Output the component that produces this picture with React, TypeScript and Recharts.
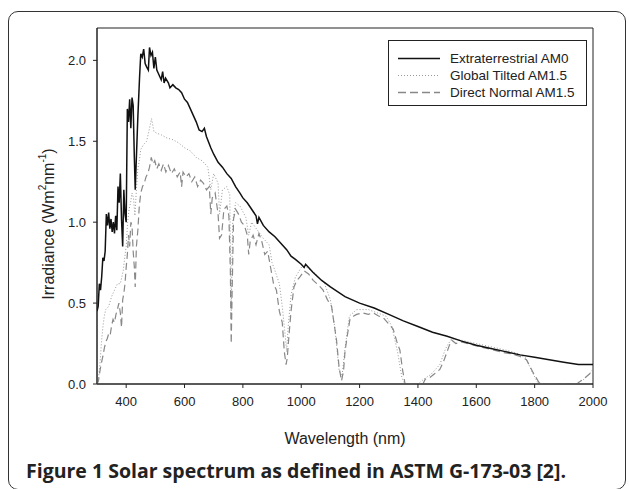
import React from 'react';
import { LineChart, Line, XAxis, YAxis, ReferenceArea } from 'recharts';

// Extraterrestrial AM0
const am0Wl = [300, 304, 308, 312, 316, 320, 324, 328, 332, 336, 340, 344, 348, 352, 356, 360, 364, 368, 372, 376, 380, 384, 388, 392, 396, 400, 404, 408, 412, 416, 420, 424, 428, 431, 434, 440, 446, 450, 455, 460, 465, 470, 476, 480, 485, 490, 495, 500, 505, 510, 520, 525, 530, 535, 545, 550, 560, 570, 580, 590, 600, 610, 620, 630, 640, 650, 660, 668, 675, 690, 700, 715, 730, 745, 760, 775, 790, 800, 815, 830, 845, 850, 855, 870, 890, 910, 930, 950, 965, 980, 1000, 1010, 1015, 1040, 1070, 1100, 1150, 1200, 1250, 1300, 1350, 1400, 1450, 1500, 1550, 1600, 1650, 1700, 1750, 1800, 1850, 1900, 1950, 2000];
const am0Val = [0.45, 0.48, 0.62, 0.58, 0.66, 0.78, 0.76, 0.82, 1.05, 0.98, 1.06, 0.96, 1.02, 0.94, 1.0, 0.93, 1.04, 0.95, 1.22, 1.12, 1.3, 1.02, 0.85, 1.2, 1.05, 1.0, 1.7, 1.62, 1.76, 1.58, 1.77, 1.72, 1.4, 1.2, 1.35, 1.65, 1.9, 2.04, 2.02, 2.07, 1.98, 1.96, 1.94, 2.08, 2.03, 2.05, 1.95, 2.02, 1.94, 1.92, 1.88, 1.93, 1.86, 1.89, 1.86, 1.83, 1.85, 1.83, 1.82, 1.8, 1.76, 1.74, 1.7, 1.66, 1.62, 1.57, 1.56, 1.58, 1.53, 1.46, 1.42, 1.37, 1.34, 1.3, 1.27, 1.22, 1.18, 1.15, 1.12, 1.08, 1.04, 0.99, 1.03, 0.98, 0.94, 0.91, 0.87, 0.83, 0.79, 0.77, 0.74, 0.72, 0.74, 0.69, 0.64, 0.6, 0.54, 0.5, 0.47, 0.43, 0.39, 0.355, 0.32, 0.295, 0.265, 0.24, 0.22, 0.2, 0.18, 0.165, 0.15, 0.135, 0.12, 0.12];

// Global Tilted AM1.5
const globalWl = [300, 305, 310, 315, 320, 325, 330, 340, 350, 360, 370, 380, 385, 390, 395, 400, 405, 410, 415, 420, 425, 430, 435, 440, 445, 450, 460, 470, 480, 487, 495, 505, 520, 540, 560, 580, 600, 620, 640, 660, 680, 690, 700, 715, 720, 730, 745, 755, 760, 765, 775, 790, 810, 820, 830, 850, 870, 890, 900, 910, 925, 935, 945, 950, 955, 965, 980, 1000, 1020, 1050, 1080, 1100, 1115, 1130, 1140, 1150, 1165, 1190, 1230, 1260, 1290, 1310, 1330, 1345, 1355, 1400, 1420, 1445, 1475, 1495, 1515, 1550, 1600, 1650, 1700, 1740, 1770, 1790, 1810, 1830, 1940, 1970, 2000];
const globalVal = [0.0, 0.03, 0.12, 0.25, 0.35, 0.42, 0.46, 0.48, 0.54, 0.58, 0.62, 0.62, 0.66, 0.7, 0.78, 0.85, 1.0, 1.08, 1.12, 1.18, 1.15, 1.04, 1.2, 1.33, 1.38, 1.45, 1.48, 1.5, 1.58, 1.64, 1.56, 1.55, 1.54, 1.52, 1.51, 1.49, 1.46, 1.44, 1.4, 1.38, 1.34, 1.2, 1.3, 1.24, 1.05, 1.2, 1.22, 1.17, 0.45, 1.0, 1.12, 1.1, 1.03, 0.92, 1.0, 0.95, 0.9, 0.86, 0.75, 0.7, 0.62, 0.48, 0.3, 0.2, 0.35, 0.55, 0.66, 0.72, 0.72, 0.68, 0.62, 0.52, 0.35, 0.08, 0.05, 0.22, 0.42, 0.46, 0.46, 0.44, 0.42, 0.36, 0.2, 0.04, 0.0, 0.0, 0.03, 0.06, 0.12, 0.22, 0.28, 0.27, 0.25, 0.23, 0.21, 0.19, 0.16, 0.08, 0.01, 0.0, 0.0, 0.03, 0.09];

// Direct Normal AM1.5
const directWl = [300, 305, 310, 315, 320, 325, 330, 335, 340, 345, 350, 355, 360, 365, 370, 375, 380, 384, 388, 392, 396, 400, 404, 408, 412, 416, 420, 424, 428, 431, 435, 440, 445, 450, 456, 462, 468, 474, 480, 486, 492, 498, 505, 512, 520, 528, 536, 545, 555, 565, 575, 585, 590, 595, 605, 615, 625, 635, 645, 655, 665, 675, 685, 690, 695, 705, 715, 720, 727, 735, 745, 752, 757, 760, 763, 768, 775, 785, 795, 805, 815, 820, 825, 835, 845, 855, 865, 875, 885, 895, 905, 915, 925, 935, 942, 948, 952, 958, 965, 975, 985, 995, 1010, 1025, 1041, 1060, 1075, 1090, 1104, 1112, 1121, 1130, 1138, 1145, 1150, 1158, 1167, 1180, 1190, 1210, 1230, 1246, 1265, 1281, 1300, 1315, 1328, 1338, 1348, 1356, 1417, 1425, 1441, 1455, 1475, 1488, 1498, 1508, 1516, 1530, 1550, 1580, 1612, 1650, 1690, 1726, 1750, 1772, 1795, 1818, 1944, 1970, 2000];
const directVal = [0.0, 0.02, 0.08, 0.13, 0.17, 0.22, 0.26, 0.28, 0.31, 0.3, 0.36, 0.4, 0.38, 0.43, 0.46, 0.5, 0.44, 0.35, 0.52, 0.56, 0.62, 0.72, 0.8, 0.92, 0.85, 1.0, 0.98, 0.82, 0.72, 0.6, 0.85, 0.95, 1.1, 1.18, 1.22, 1.24, 1.28, 1.3, 1.34, 1.4, 1.36, 1.38, 1.33, 1.36, 1.32, 1.36, 1.31, 1.35, 1.3, 1.33, 1.28, 1.31, 1.22, 1.31, 1.28, 1.3, 1.25, 1.28, 1.22, 1.26, 1.24, 1.2, 1.22, 1.05, 1.15, 1.18, 1.05, 0.9, 0.92, 1.08, 1.1, 1.04, 0.7, 0.25, 0.55, 1.02, 1.08, 1.05, 1.0, 0.98, 0.92, 0.8, 0.88, 0.92, 0.86, 0.93, 0.88, 0.8, 0.82, 0.72, 0.62, 0.58, 0.45, 0.38, 0.2, 0.12, 0.16, 0.3, 0.45, 0.6, 0.64, 0.66, 0.7, 0.68, 0.64, 0.61, 0.58, 0.52, 0.48, 0.38, 0.27, 0.1, 0.02, 0.08, 0.2, 0.3, 0.4, 0.42, 0.43, 0.44, 0.43, 0.44, 0.42, 0.41, 0.37, 0.34, 0.26, 0.21, 0.08, 0.0, 0.0, 0.03, 0.04, 0.06, 0.09, 0.14, 0.19, 0.24, 0.27, 0.25, 0.26, 0.245, 0.23, 0.215, 0.195, 0.185, 0.17, 0.15, 0.07, 0.0, 0.0, 0.035, 0.08];

const xTicks = [400, 600, 800, 1000, 1200, 1400, 1600, 1800, 2000];
const yTicks = [0, 0.5, 1.0, 1.5, 2.0];

const zip = (wl: number[], val: number[]) => wl.map((w, i) => ({ wl: w, v: val[i] }));

const am0Data = zip(am0Wl, am0Val);
const globalData = zip(globalWl, globalVal);
const directData = zip(directWl, directVal);

const tickFont = { fontFamily: '"Liberation Sans", Arial, sans-serif', fontSize: 13, fill: '#222' };

const YLabel = () => {
  const cx = 48;
  const cy = 224;
  return (
    <text
      x={cx}
      y={cy}
      transform={`rotate(-90 ${cx} ${cy})`}
      textAnchor="middle"
      dominantBaseline="central"
      fontFamily='"Liberation Sans", Arial, sans-serif'
      fontSize={16}
      fill="#222"
    >
      Irradiance (Wm<tspan dy={-6} fontSize={10}>2</tspan>
      <tspan dy={6}>nm</tspan>
      <tspan dy={-6} fontSize={10}>-1</tspan>
      <tspan dy={6}>)</tspan>
    </text>
  );
};

const legendItems = [
  { name: 'Extraterrestrial AM0', stroke: '#111', dash: undefined, width: 1.6 },
  { name: 'Global Tilted AM1.5', stroke: '#999', dash: '1 2', width: 1 },
  { name: 'Direct Normal AM1.5', stroke: '#888', dash: '8 4', width: 1.4 },
];

export default function App() {
  return (
    <div style={{ position: 'fixed', left: 0, top: 0, width: 629, height: 489, background: '#fff', overflow: 'hidden' }}>
      {/* rounded figure frame */}
      <div
        style={{
          position: 'absolute',
          left: 8,
          top: 11,
          width: 616,
          height: 477,
          border: '1px solid #333',
          borderRadius: 10,
        }}
      />
      <div style={{ position: 'absolute', left: 0, top: 0 }}>
        <LineChart width={629} height={489} margin={{ top: 28, right: 36, bottom: 75, left: 0 }}>
          <XAxis
            type="number"
            dataKey="wl"
            domain={[300, 2000]}
            ticks={xTicks}
            allowDataOverflow
            height={30}
            tick={tickFont}
            tickSize={4}
            tickMargin={9}
            stroke="#222"
            label={{ value: 'Wavelength (nm)', position: 'insideBottom', offset: -30, style: { fontFamily: '"Liberation Sans", Arial, sans-serif', fontSize: 16, fill: '#222' } }}
          />
          <YAxis
            type="number"
            dataKey="v"
            domain={[0, 2.2]}
            ticks={yTicks}
            allowDataOverflow
            width={97}
            tick={tickFont}
            tickSize={4}
            tickMargin={7}
            tickFormatter={(v: number) => v.toFixed(1)}
            stroke="#222"
            label={{ content: <YLabel /> }}
          />
          <ReferenceArea x1={300} x2={2000} y1={0} y2={2.2} fill="none" stroke="#222" strokeWidth={1} ifOverflow="visible" />
          <Line data={globalData} dataKey="v" type="linear" stroke="#999" strokeWidth={1} strokeDasharray="1 2" dot={false} isAnimationActive={false} />
          <Line data={directData} dataKey="v" type="linear" stroke="#888" strokeWidth={1.2} strokeDasharray="7 4" dot={false} isAnimationActive={false} />
          <Line data={am0Data} dataKey="v" type="linear" stroke="#111" strokeWidth={1.5} dot={false} isAnimationActive={false} />
        </LineChart>
      </div>
      {/* legend */}
      <div
        style={{
          position: 'absolute',
          left: 388,
          top: 40,
          width: 199,
          height: 66,
          border: '1px solid #222',
          background: '#fff',
          boxSizing: 'border-box',
          fontFamily: '"Liberation Sans", Arial, sans-serif',
          fontSize: 13.5,
          color: '#222',
        }}
      >
        {legendItems.map((it) => (
          <div key={it.name} style={{ position: 'absolute', left: 9, top: 9 + legendItems.indexOf(it) * 17, height: 17, display: 'flex', alignItems: 'center' }}>
            <svg width={42} height={17} style={{ display: 'block' }}>
              <line x1={0} x2={42} y1={8.5} y2={8.5} stroke={it.stroke} strokeWidth={it.width} strokeDasharray={it.dash} />
            </svg>
            <span style={{ marginLeft: 10, whiteSpace: 'nowrap' }}>{it.name}</span>
          </div>
        ))}
      </div>
      <div
        style={{
          position: 'absolute',
          left: 26,
          top: 459,
          fontFamily: '"Open Sans", sans-serif',
          fontWeight: 700,
          fontSize: 19.5,
          color: '#222',
          whiteSpace: 'nowrap',
          lineHeight: '24px',
        }}
      >
        Figure 1 Solar spectrum as defined in ASTM G-173-03 [2].
      </div>
    </div>
  );
}
